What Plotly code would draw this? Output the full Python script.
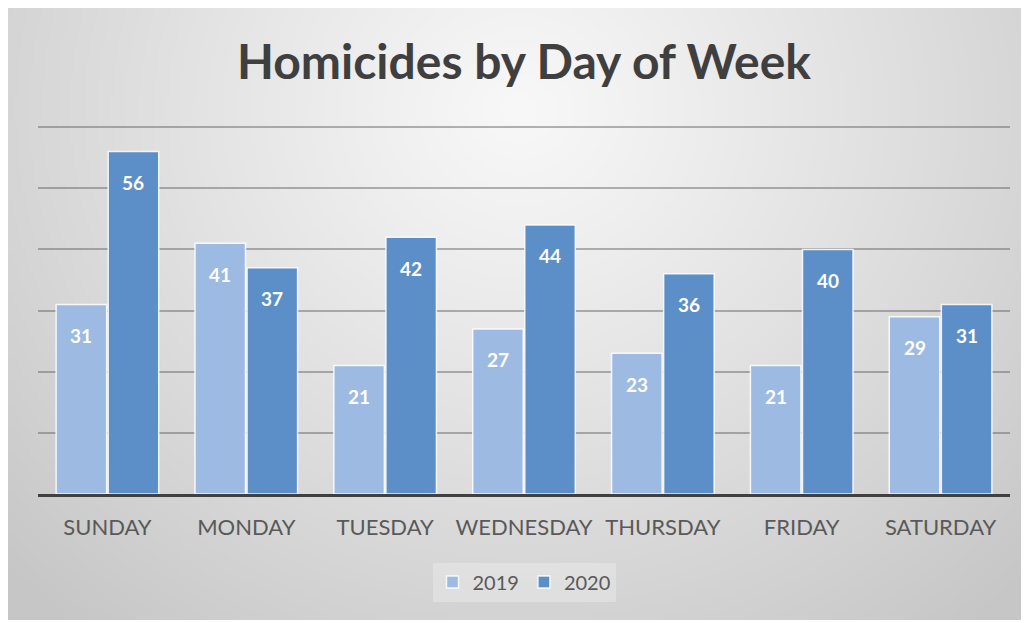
import base64
import struct
import zlib

import plotly.graph_objects as go

# ---- data ----
days = ["SUNDAY", "MONDAY", "TUESDAY", "WEDNESDAY", "THURSDAY", "FRIDAY", "SATURDAY"]
homicides_2019 = [31, 41, 21, 27, 23, 21, 29]
homicides_2020 = [56, 37, 42, 44, 36, 40, 31]
series_names = ["2019", "2020"]

C2019 = "#9dbae2"
C2020 = "#5c8fc8"
TEXT = "#595959"

# page body adds an 8px margin, so the figure is laid out 8px up/left
OFF = 8
W, H = 1029 - OFF, 623 - OFF
YMAX = 61
PW = 972
PH = round(367 * YMAX / 60)
ML = 38 - OFF
MB = H - (494 - OFF)
MT = H - MB - PH
MR = W - ML - PW


# ---- background radial gradient as PNG ----
def make_png(w, h, pix):
    raw = b"".join(b"\x00" + bytes(row) for row in pix)

    def chunk(tag, data):
        c = struct.pack(">I", len(data)) + tag + data
        return c + struct.pack(">I", zlib.crc32(tag + data) & 0xFFFFFFFF)

    png = b"\x89PNG\r\n\x1a\n"
    png += chunk(b"IHDR", struct.pack(">IIBBBBB", w, h, 8, 0, 0, 0, 0))
    png += chunk(b"IDAT", zlib.compress(raw, 9))
    png += chunk(b"IEND", b"")
    return "data:image/png;base64," + base64.b64encode(png).decode()


GW, GH = 256, 154
x0p, y0p, x1p, y1p = 0, 0, W, 620 - OFF
rows = []
for j in range(GH):
    py = y0p + (y1p - y0p) * (j + 0.5) / GH + OFF
    row = []
    for i in range(GW):
        px = x0p + (x1p - x0p) * (i + 0.5) / GW + OFF
        d = (((px - 520) / 640) ** 2 + ((py - 110) / 600) ** 2) ** 0.5
        v = 248 - 44 * d ** 1.1
        row.append(max(198, min(250, int(v))))
    rows.append(row)
bg_src = make_png(GW, GH, rows)

fig = go.Figure()
fig.add_trace(go.Bar(
    x=days, y=homicides_2019, name=series_names[0],
    marker=dict(color=C2019, line=dict(color="rgba(255,255,255,0.85)", width=1.5)),
))
fig.add_trace(go.Bar(
    x=days, y=homicides_2020, name=series_names[1],
    marker=dict(color=C2020, line=dict(color="rgba(255,255,255,0.85)", width=1.5)),
))

annotations = []
for i, (a, b) in enumerate(zip(homicides_2019, homicides_2020)):
    for off, v in ((-0.1875, a), (0.1875, b)):
        annotations.append(dict(
            x=i + off, y=v, xref="x", yref="y", text=str(v), showarrow=False,
            yshift=-31, font=dict(family="Lato", size=19, color="white", weight="bold"),
        ))

fig.update_layout(
    width=W, height=H,
    margin=dict(l=ML, r=MR, t=MT, b=MB),
    paper_bgcolor="white",
    plot_bgcolor="rgba(0,0,0,0)",
    barmode="group", bargap=0.25, bargroupgap=0.03,
    title=dict(text="<b>Homicides by Day of Week</b>", x=0.5, xref="paper",
               y=1 - (62 - OFF) / H, yref="container", yanchor="middle", xanchor="center",
               font=dict(family="Lato", size=48, color="#3f3f3f")),
    xaxis=dict(showgrid=False, showline=True, linecolor="#404040", linewidth=3,
               ticks="", tickfont=dict(family="Lato", size=22, color=TEXT),
               ticklabelstandoff=12),
    yaxis=dict(range=[0, YMAX], tick0=0, dtick=10, showticklabels=False, showgrid=True,
               gridcolor="rgba(90,90,90,0.45)", gridwidth=1.6, zeroline=False, showline=False),
    legend=dict(orientation="h", x=0.5, xanchor="center",
                y=(MB - (582 - 494)) / PH - MB / PH + 0, yanchor="middle",
                font=dict(family="Lato", size=20, color=TEXT),
                bgcolor="rgba(255,255,255,0.25)", itemwidth=30, traceorder="normal"),
    annotations=annotations,
    images=[dict(source=bg_src, xref="paper", yref="paper",
                 x=(x0p - ML) / PW, y=(MT + PH - y0p) / PH,
                 sizex=(x1p - x0p) / PW, sizey=(y1p - y0p) / PH,
                 xanchor="left", yanchor="top", sizing="stretch", layer="below")],
)

fig.write_html("out.html")
